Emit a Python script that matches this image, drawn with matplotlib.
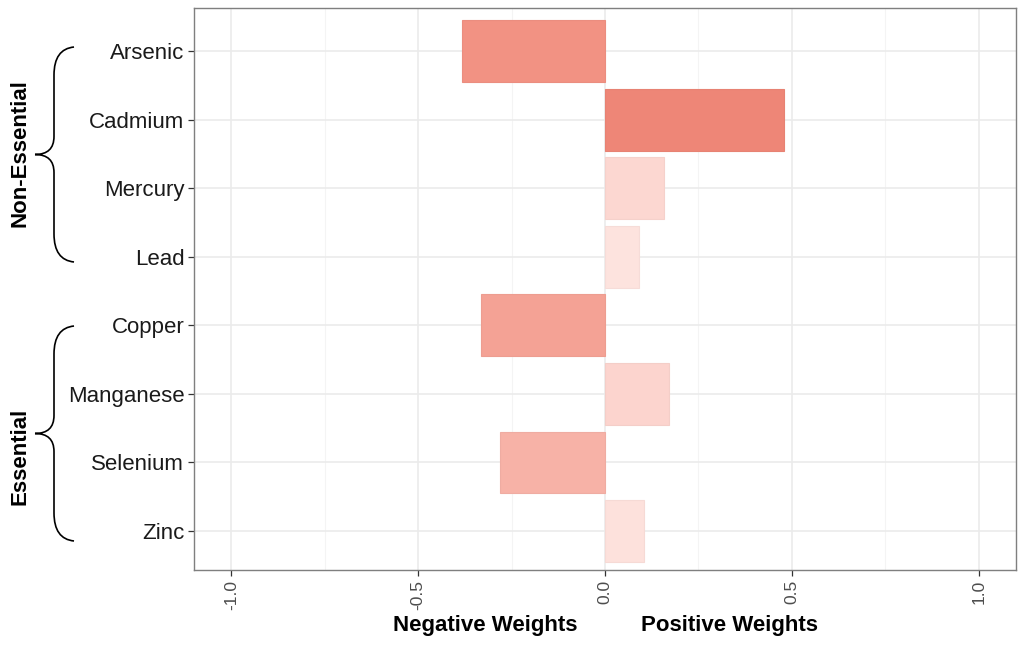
import numpy as np
import matplotlib.pyplot as plt
from matplotlib.path import Path
from matplotlib.patches import PathPatch
from matplotlib.colors import LinearSegmentedColormap

plt.rcParams['font.family'] = ['Liberation Sans', 'DejaVu Sans']

# data
metals = ['Arsenic', 'Cadmium', 'Mercury', 'Lead',
          'Copper', 'Manganese', 'Selenium', 'Zinc']
weights = [-0.382, 0.480, 0.157, 0.090, -0.331, 0.171, -0.280, 0.104]
groups = ['Non-Essential', 'Essential']
xticks = [-1.0, -0.5, 0.0, 0.5, 1.0]

cmap = LinearSegmentedColormap.from_list(
    'w', [(0, '#FFF3F0'), (0.35, '#FCD5CF'), (0.8, '#F29182'), (1, '#EE8677')])
mags = np.abs(weights) / max(np.abs(weights))
fills = [cmap(m) for m in mags]
edges = [tuple(c * 0.97 for c in f[:3]) for f in fills]

fig = plt.figure(figsize=(10.21, 6.46), dpi=100)
ax = fig.add_axes([194 / 1021, 1 - 570 / 646, (1016 - 194) / 1021, (570 - 8) / 646])

y = np.arange(len(metals))
ax.barh(y, weights, height=0.9, color=fills, edgecolor=edges, linewidth=0.8, zorder=3)

ax.set_xlim(-1.1, 1.1)
ax.set_ylim(len(metals) - 0.43, -0.63)
ax.set_xticks(xticks)
ax.set_xticklabels(['%.1f' % t for t in xticks], rotation=90, fontsize=12.5, color='#4D4D4D')
ax.set_xticks([-0.75, -0.25, 0.25, 0.75], minor=True)
ax.set_yticks(y)
ax.set_yticklabels(metals, fontsize=16, color='#1A1A1A')
ax.grid(True, which='major', color='#EBEBEB', linewidth=1.2, zorder=0)
ax.grid(True, which='minor', axis='x', color='#F4F4F4', linewidth=0.8, zorder=0)
ax.tick_params(which='major', length=4, width=0.9, color='#333333', pad=3)
ax.tick_params(which='minor', length=0)
for s in ax.spines.values():
    s.set_color('#7F7F7F')
    s.set_linewidth(1.0)

fig.text(485 / 1021, 1 - 626 / 646, 'Negative Weights', fontsize=16, fontweight='bold',
         ha='center', va='center')
fig.text(729 / 1021, 1 - 626 / 646, 'Positive Weights', fontsize=16, fontweight='bold',
         ha='center', va='center')

# braces in pixel coords
ov = fig.add_axes([0, 0, 1, 1], facecolor='none')
ov.set_xlim(0, 1021)
ov.set_ylim(646, 0)
ov.axis('off')


def brace(top, bot, x_end=74, x_mid=54, x_tip=35):
    tip = (top + bot) / 2
    verts = [(x_end, top), (x_mid, top + 2), (x_mid, top + 28),
             (x_mid, tip - 18), (x_mid, tip), (x_tip, tip),
             (x_mid, tip), (x_mid, tip + 18),
             (x_mid, bot - 28), (x_mid, bot - 2), (x_end, bot)]
    codes = [Path.MOVETO, Path.CURVE3, Path.CURVE3,
             Path.LINETO, Path.CURVE3, Path.CURVE3,
             Path.CURVE3, Path.CURVE3,
             Path.LINETO, Path.CURVE3, Path.CURVE3]
    ov.add_patch(PathPatch(Path(verts, codes), fill=False, lw=1.2, color='black'))


brace(47, 262)
brace(326, 541)
ov.text(20, 153, groups[0], rotation=90, fontsize=16, fontweight='bold', ha='center', va='center')
ov.text(20, 456, groups[1], rotation=90, fontsize=16, fontweight='bold', ha='center', va='center')

fig.savefig('out.png', dpi=100)
